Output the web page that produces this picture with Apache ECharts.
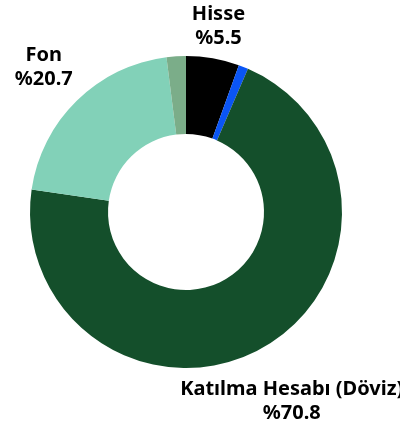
<!DOCTYPE html>
<html>
<head>
<meta charset="utf-8">
<script src="https://cdn.jsdelivr.net/npm/echarts@6/dist/echarts.min.js"></script>
<style>
  html, body { margin: 0; padding: 0; background: #ffffff; }
  #chart { width: 400px; height: 425px; }
</style>
</head>
<body>
<div id="chart"></div>
<script>
// portfolio split, in percent
const names = ['Hisse', 'Diğer', 'Katılma Hesabı (Döviz)', 'Fon', 'Nakit'];
const values = [5.5, 1.0, 70.8, 20.7, 2.0];
const colors = ['#000000', '#0a55f5', '#144f2b', '#82d1b8', '#7bad89'];

const cx = 186, cy = 212, outerR = 156;
// how far each label sits past the outer edge (style only)
const labelGap = [33, 0, 61, 47, 0];

const total = values.reduce((a, b) => a + b, 0);
function midAngle(i) {
  let before = 0;
  for (let k = 0; k < i; k++) before += values[k];
  return (before + values[i] / 2) / total * 2 * Math.PI; // clockwise from top
}

const chart = echarts.init(document.getElementById('chart'));
chart.setOption({
  backgroundColor: '#ffffff',
  animation: false,
  series: [{
    type: 'pie',
    center: [cx, cy],
    radius: [78, outerR],
    startAngle: 90,
    clockwise: true,
    avoidLabelOverlap: false,
    data: names.map((n, i) => ({
      name: n,
      value: values[i],
      itemStyle: { color: colors[i] },
      label: { show: values[i] >= 5 }
    })),
    label: {
      position: 'outside',
      formatter: p => p.name + '\n%' + p.value,
      color: '#000000',
      fontFamily: 'Noto Sans',
      fontWeight: 'bold',
      fontSize: 20,
      lineHeight: 24
    },
    labelLine: { show: false },
    labelLayout: function (params) {
      const i = params.dataIndex;
      const a = midAngle(i);
      const r = outerR + labelGap[i];
      return {
        x: cx + r * Math.sin(a),
        y: cy - r * Math.cos(a),
        align: 'center',
        verticalAlign: 'middle'
      };
    }
  }]
});
</script>
</body>
</html>
